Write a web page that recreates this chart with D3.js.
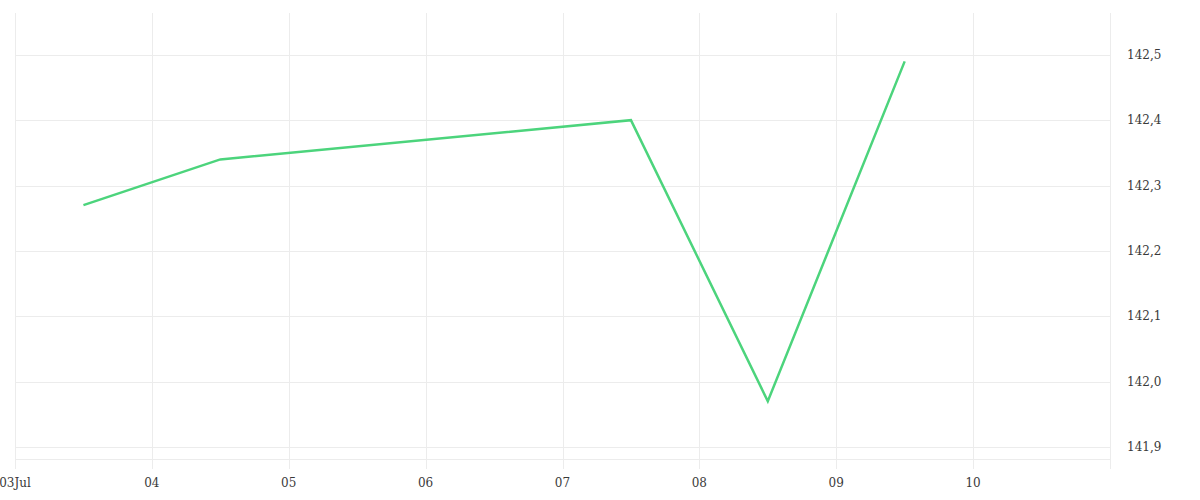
<!DOCTYPE html>
<html>
<head>
<meta charset="utf-8">
<script src="https://cdn.jsdelivr.net/npm/d3@7"></script>
<style>
  body { margin: 0; background: #fff; }
  text { font-family: "DejaVu Serif", serif; font-size: 12px; fill: #3a3a3a; }
</style>
</head>
<body>
<svg id="chart" width="1200" height="500"></svg>
<script>
// data
var dates = ["2022-07-03T12:00", "2022-07-04T12:00", "2022-07-07T12:00", "2022-07-08T12:00", "2022-07-09T12:00"];
var values = [142.27, 142.34, 142.40, 141.97, 142.49];
var yTicks = [141.9, 142.0, 142.1, 142.2, 142.3, 142.4, 142.5];
var xTicks = ["2022-07-03", "2022-07-04", "2022-07-05", "2022-07-06", "2022-07-07", "2022-07-08", "2022-07-09", "2022-07-10"];

// plot area (top is reserved on window, so use pTop etc)
var pLeft = 15, pRight = 1110, pTop = 13, pBottom = 459;
var parse = d3.timeParse("%Y-%m-%dT%H:%M");
var parseDay = d3.timeParse("%Y-%m-%d");
var data = dates.map(function(d, i) { return [parse(d), values[i]]; });

var svg = d3.select("#chart");

var x = d3.scaleTime()
    .domain([parseDay("2022-07-03"), parseDay("2022-07-11")])
    .range([pLeft, pRight]);
var y = d3.scaleLinear()
    .domain([141.8816, 142.564])
    .range([pBottom, pTop]);

var grid = "#ececec";

// vertical grid lines (extend below the plot as ticks)
svg.append("g").selectAll("line")
  .data(xTicks.map(parseDay).concat([parseDay("2022-07-11")]))
  .enter().append("line")
  .attr("x1", function(d) { return Math.round(x(d)) + 0.5; })
  .attr("x2", function(d) { return Math.round(x(d)) + 0.5; })
  .attr("y1", pTop).attr("y2", 469)
  .attr("stroke", grid);

// horizontal grid lines
svg.append("g").selectAll("line")
  .data(yTicks)
  .enter().append("line")
  .attr("x1", pLeft).attr("x2", pRight)
  .attr("y1", function(d) { return Math.round(y(d)) + 0.5; })
  .attr("y2", function(d) { return Math.round(y(d)) + 0.5; })
  .attr("stroke", grid);

// bottom border
svg.append("line")
  .attr("x1", pLeft).attr("x2", pRight)
  .attr("y1", pBottom + 0.5).attr("y2", pBottom + 0.5)
  .attr("stroke", grid);

// y labels on the right
svg.append("g").selectAll("text")
  .data(yTicks)
  .enter().append("text")
  .attr("x", 1127)
  .attr("y", function(d) { return y(d); })
  .attr("dy", "0.35em")
  .text(function(d) { return d3.format(".1f")(d).replace(".", ","); });

// x labels
var fmtDay = d3.timeFormat("%d");
svg.append("g").selectAll("text")
  .data(xTicks.map(parseDay))
  .enter().append("text")
  .attr("x", function(d) { return x(d); })
  .attr("y", 483)
  .attr("dy", "0.35em")
  .attr("text-anchor", "middle")
  .text(function(d, i) { return i == 0 ? fmtDay(d) + "Jul" : fmtDay(d); });

// line
var line = d3.line()
    .x(function(d) { return x(d[0]); })
    .y(function(d) { return y(d[1]); });

svg.append("path")
  .attr("d", line(data))
  .attr("fill", "none")
  .attr("stroke", "#4cd47c")
  .attr("stroke-width", 2.5)
  .attr("stroke-linejoin", "miter");
</script>
</body>
</html>
